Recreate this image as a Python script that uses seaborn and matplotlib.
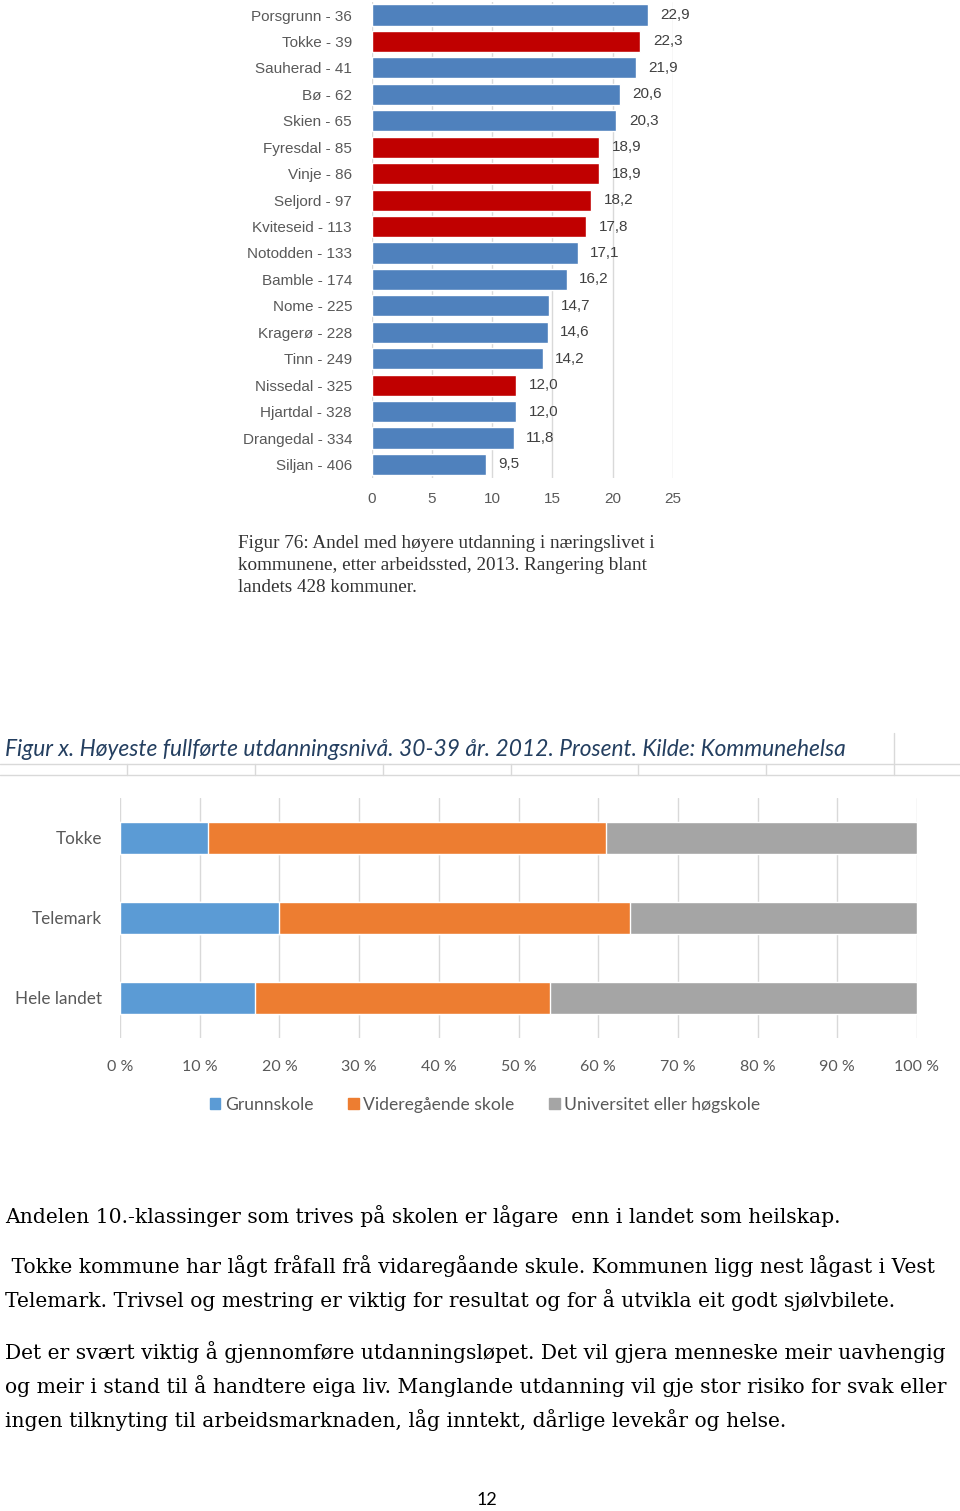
import pandas as pd
import matplotlib.pyplot as plt
import seaborn as sns
from matplotlib.lines import Line2D
from matplotlib.patches import Patch

# Figur 76: andel med høyere utdanning i næringslivet
kommuner = ["Porsgrunn - 36", "Tokke - 39", "Sauherad - 41", "Bø - 62", "Skien - 65",
            "Fyresdal - 85", "Vinje - 86", "Seljord - 97", "Kviteseid - 113",
            "Notodden - 133", "Bamble - 174", "Nome - 225", "Kragerø - 228",
            "Tinn - 249", "Nissedal - 325", "Hjartdal - 328", "Drangedal - 334",
            "Siljan - 406"]
andel = [22.9, 22.3, 21.9, 20.6, 20.3, 18.9, 18.9, 18.2, 17.8,
         17.1, 16.2, 14.7, 14.6, 14.2, 12.0, 12.0, 11.8, 9.5]
vest_telemark = [False, True, False, False, False, True, True, True, True,
                 False, False, False, False, False, True, False, False, False]

# Figur x: høyeste fullførte utdanningsnivå (prosent)
omraader = ["Tokke", "Telemark", "Hele landet"]
grunnskole = [11, 20, 17]
videregaende = [50, 44, 37]
universitet = [39, 36, 46]

W, H = 960, 1511
sns.set_theme(style="white")
plt.rcParams["font.family"] = ["Liberation Sans", "DejaVu Sans"]

fig = plt.figure(figsize=(W / 100, H / 100), dpi=100)
fig.patch.set_facecolor("white")


def box(x0, y0, x1, y1):
    # pixel box -> figure coords
    return [x0 / W, 1 - y1 / H, (x1 - x0) / W, (y1 - y0) / H]


# ---------- top chart ----------
df1 = pd.DataFrame({"kommune": kommuner, "andel": andel,
                    "region": ["Vest" if v else "Andre" for v in vest_telemark]})
ax1 = fig.add_axes(box(371.5, 1.8, 673, 477.7))
sns.barplot(data=df1, x="andel", y="kommune", hue="region",
            palette={"Vest": "#C00000", "Andre": "#4F81BD"}, saturation=1,
            dodge=False, width=0.8, legend=False, ax=ax1)
for c in ax1.containers:
    ax1.bar_label(c, labels=[f"{v:.1f}".replace(".", ",") for v in c.datavalues],
                  padding=9, fontsize=11, color="#404040")
ax1.set_xlim(0, 25)
ax1.set_xticks(range(0, 26, 5))
ax1.set_xlabel("")
ax1.set_ylabel("")
ax1.grid(axis="x", color="#D9D9D9", linewidth=1)
ax1.set_axisbelow(True)
sns.despine(ax=ax1, left=True, bottom=True)
ax1.tick_params(axis="both", length=0, labelsize=11, colors="#595959")
ax1.tick_params(axis="x", pad=10)
ax1.tick_params(axis="y", pad=14)

cap = ["Figur 76: Andel med høyere utdanning i næringslivet i",
       "kommunene, etter arbeidssted, 2013. Rangering blant",
       "landets 428 kommuner."]
for i, line in enumerate(cap):
    fig.text(238 / W, 1 - (543 + 22 * i) / H, line, family="Liberation Serif",
             fontsize=13.8, color="#333333", va="center", ha="left")

# ---------- excel title row ----------
fig.text(5 / W, 1 - 749 / H,
         "Figur x. Høyeste fullførte utdanningsnivå. 30-39 år. 2012. Prosent. Kilde: Kommunehelsa",
         family="Lato", style="italic", fontsize=16.4, color="#243F60",
         va="center", ha="left")
gc = "#D9D9D9"
for yy in (764, 775):
    fig.add_artist(Line2D([0, 1], [1 - yy / H] * 2, color=gc, lw=1))
for xx in (127, 255, 383, 511, 638, 766):
    fig.add_artist(Line2D([xx / W] * 2, [1 - 764 / H, 1 - 775 / H], color=gc, lw=1))
fig.add_artist(Line2D([894 / W] * 2, [1 - 733 / H, 1 - 775 / H], color=gc, lw=1))

# ---------- stacked chart ----------
df2 = pd.DataFrame({"omraade": omraader, "g": grunnskole,
                    "v": videregaende, "u": universitet})
df2["gv"] = df2["g"] + df2["v"]
df2["tot"] = df2["gv"] + df2["u"]
farger = {"Grunnskole": "#5B9BD5", "Videregående skole": "#ED7D31",
          "Universitet eller høgskole": "#A5A5A5"}

ax2 = fig.add_axes(box(120, 798, 917, 1038))
sns.barplot(data=df2, x="tot", y="omraade", color=farger["Universitet eller høgskole"],
            width=0.4, saturation=1, ax=ax2)
sns.barplot(data=df2, x="gv", y="omraade", color=farger["Videregående skole"],
            width=0.4, saturation=1, ax=ax2)
sns.barplot(data=df2, x="g", y="omraade", color=farger["Grunnskole"],
            width=0.4, saturation=1, ax=ax2)
ax2.set_xlim(0, 100)
ax2.set_ylim(2.5, -0.5)
ax2.set_xticks(range(0, 101, 10))
ax2.set_xticklabels([f"{t} %" for t in range(0, 101, 10)])
ax2.set_xlabel("")
ax2.set_ylabel("")
ax2.grid(axis="x", color=gc, linewidth=1)
ax2.set_axisbelow(True)
sns.despine(ax=ax2, left=True, bottom=True)
ax2.tick_params(axis="x", length=0, labelsize=11.5, colors="#595959", pad=16)
ax2.tick_params(axis="y", length=0, labelsize=12.3, colors="#595959", pad=13)
for lab in ax2.get_xticklabels() + ax2.get_yticklabels():
    lab.set_family("Lato")

handles = [Patch(color=c, label=k) for k, c in farger.items()]
fig.legend(handles=handles, loc="center", bbox_to_anchor=(485 / W, 1 - 1105 / H),
           ncol=3, frameon=False, handlelength=0.6, handleheight=0.6,
           handletextpad=0.25, columnspacing=2.0,
           prop={"family": "Lato", "size": 12.6}, labelcolor="#595959")

# ---------- body text ----------
body = [
    (5, 1216, "Andelen 10.-klassinger som trives på skolen er lågare  enn i landet som heilskap."),
    (5, 1266, " Tokke kommune har lågt fråfall frå vidaregåande skule. Kommunen ligg nest lågast i Vest"),
    (5, 1300, "Telemark. Trivsel og mestring er viktig for resultat og for å utvikla eit godt sjølvbilete."),
    (5, 1352, "Det er svært viktig å gjennomføre utdanningsløpet. Det vil gjera menneske meir uavhengig"),
    (5, 1386, "og meir i stand til å handtere eiga liv. Manglande utdanning vil gje stor risiko for svak eller"),
    (5, 1420, "ingen tilknyting til arbeidsmarknaden, låg inntekt, dårlige levekår og helse."),
]
for x, y, line in body:
    fig.text(x / W, 1 - y / H, line, family="DejaVu Serif", fontsize=14.6,
             color="black", va="center", ha="left")

fig.text(487 / W, 1 - 1500 / H, "12", family="Lato", fontsize=13,
         color="black", va="center", ha="center")

fig.savefig("out.png", dpi=100)
